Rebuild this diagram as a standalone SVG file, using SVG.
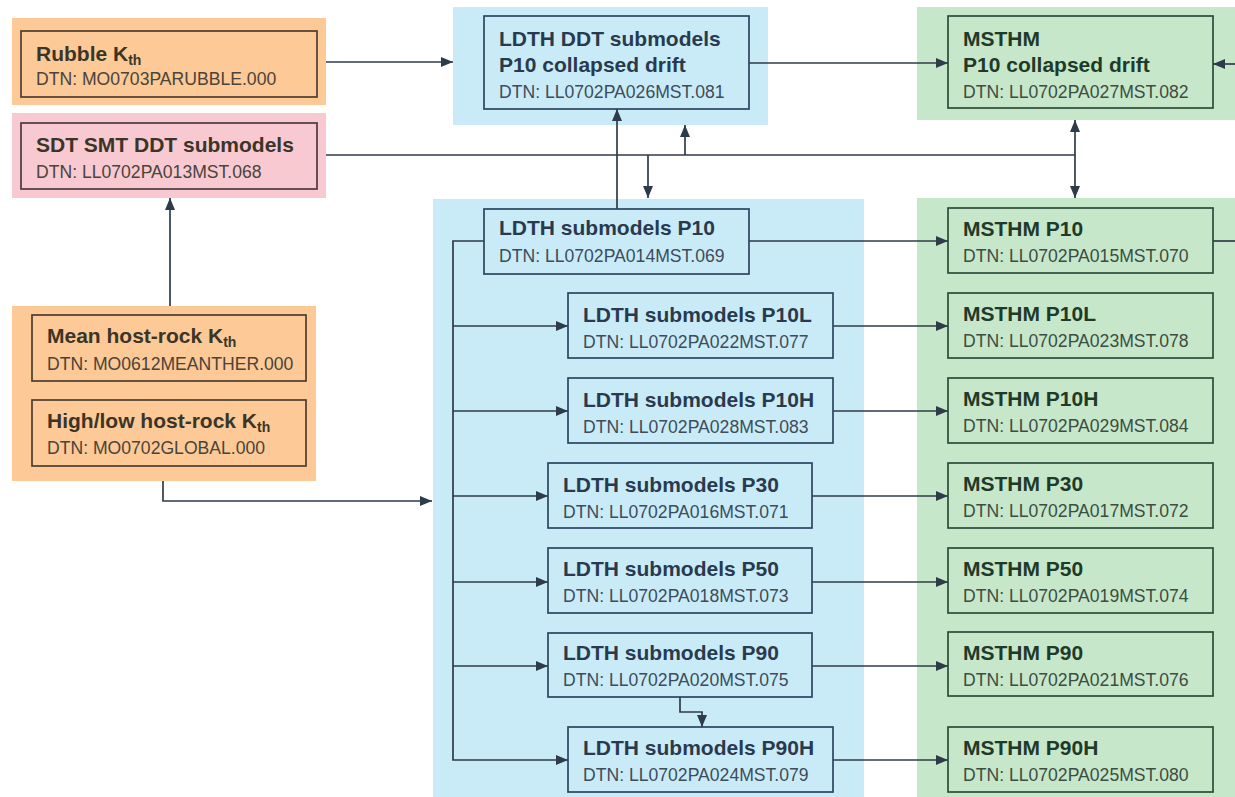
<svg xmlns="http://www.w3.org/2000/svg" width="1235" height="797" viewBox="0 0 1235 797">
<defs>
<marker id="ah" markerUnits="userSpaceOnUse" markerWidth="13" markerHeight="11" refX="12" refY="5" orient="auto">
<path d="M0,0 L12,5 L0,10 z" fill="#2e3b48"/>
</marker>
<style>
.bgO{fill:#fcc997}
.bgP{fill:#f8c9d1}
.bgB{fill:#c9ebf8}
.bgG{fill:#c7e7ca}
.bx{fill:none;stroke-width:1.7}
.bxO{stroke:#4a3e30}
.bxP{stroke:#4a3a3e}
.bxB{stroke:#2c4560}
.bxG{stroke:#2d4a38}
.t{font-family:"Liberation Sans",Arial,sans-serif;font-weight:bold;font-size:21px}
.d{font-family:"Liberation Sans",Arial,sans-serif;font-size:17.6px}
.tO{fill:#3b3528}.dO{fill:#4a443a}
.tB{fill:#2a3a4e}.dB{fill:#3e4c5a}
.tG{fill:#1f3a29}.dG{fill:#3c4d42}
.sub{font-size:14px}
.c{fill:none;stroke:#2e3b48;stroke-width:1.7}
.a{marker-end:url(#ah)}
</style>
</defs>

<g id="backgrounds">
<rect class="bgO" x="12" y="18" width="314" height="87"/>
<rect class="bgP" x="12" y="113" width="314" height="85"/>
<rect class="bgO" x="12" y="306" width="304" height="175"/>
<rect class="bgB" x="453" y="7" width="315" height="118"/>
<rect class="bgG" x="917" y="7" width="318" height="113"/>
<rect class="bgB" x="433" y="199" width="431" height="598"/>
<rect class="bgG" x="917" y="198" width="318" height="599"/>
</g>

<g id="connectors">
<path class="c a" d="M326,62 H453"/>
<path class="c" d="M326,155 H1075"/>
<path class="c a" d="M648,155 V198"/>
<path class="c a" d="M685,155 V125"/>
<path class="c a" d="M617,209 V109"/>
<path class="c a" d="M1075,155 V120"/>
<path class="c a" d="M1075,155 V198"/>
<path class="c a" d="M749,63 H948"/>
<path class="c a" d="M1235,64 H1213"/>
<path class="c a" d="M170,306 V198"/>
<path class="c a" d="M163,481 V501 H432"/>
<path class="c a" d="M749,241 H948"/>
<path class="c" d="M1213,241 H1235"/>
<path class="c a" d="M484,241 H453 V760 H568"/>
<path class="c a" d="M453,326 H568"/>
<path class="c a" d="M453,411 H568"/>
<path class="c a" d="M453,496 H548"/>
<path class="c a" d="M453,582 H548"/>
<path class="c a" d="M453,666 H548"/>
<path class="c a" d="M833,326 H948"/>
<path class="c a" d="M833,411 H948"/>
<path class="c a" d="M812,496 H948"/>
<path class="c a" d="M812,582 H948"/>
<path class="c a" d="M812,666 H948"/>
<path class="c a" d="M833,760 H948"/>
<path class="c a" d="M680,697 V712 H702 V727"/>
</g>

<g id="rubble">
<rect class="bx bxO" x="21" y="31" width="296" height="66"/>
<text class="t tO" x="36" y="61">Rubble K<tspan class="sub" dy="4">th</tspan></text>
<text class="d dO" x="36" y="85">DTN:  MO0703PARUBBLE.000</text>
</g>

<g id="sdt">
<rect class="bx bxP" x="21" y="123" width="296" height="66"/>
<text class="t tO" x="36" y="152">SDT SMT DDT submodels</text>
<text class="d dO" x="36" y="178">DTN:  LL0702PA013MST.068</text>
</g>

<g id="mean">
<rect class="bx bxO" x="32" y="315" width="274" height="66"/>
<text class="t tO" x="47" y="343">Mean host-rock K<tspan class="sub" dy="4">th</tspan></text>
<text class="d dO" x="47" y="370">DTN: MO0612MEANTHER.000</text>
</g>

<g id="highlow">
<rect class="bx bxO" x="32" y="400" width="274" height="66"/>
<text class="t tO" x="47" y="428">High/low host-rock K<tspan class="sub" dy="4">th</tspan></text>
<text class="d dO" x="47" y="454">DTN: MO0702GLOBAL.000</text>
</g>

<g id="ldth-ddt">
<rect class="bx bxB" x="484" y="16" width="265" height="93"/>
<text class="t tB" x="499" y="46">LDTH DDT submodels</text>
<text class="t tB" x="499" y="72">P10 collapsed drift</text>
<text class="d dB" x="499" y="98">DTN: LL0702PA026MST.081</text>
</g>

<g id="msthm-coll">
<rect class="bx bxG" x="948" y="16" width="265" height="92"/>
<text class="t tG" x="963" y="46">MSTHM</text>
<text class="t tG" x="963" y="72">P10 collapsed drift</text>
<text class="d dG" x="963" y="98">DTN: LL0702PA027MST.082</text>
</g>

<g id="ldth-p10">
<rect class="bx bxB" x="484" y="209" width="265" height="65"/>
<text class="t tB" x="499" y="235">LDTH submodels P10</text>
<text class="d dB" x="499" y="262">DTN: LL0702PA014MST.069</text>
</g>

<g id="ldth-p10l">
<rect class="bx bxB" x="568" y="293" width="265" height="65"/>
<text class="t tB" x="583" y="322">LDTH submodels P10L</text>
<text class="d dB" x="583" y="348">DTN: LL0702PA022MST.077</text>
</g>

<g id="ldth-p10h">
<rect class="bx bxB" x="568" y="378" width="265" height="65"/>
<text class="t tB" x="583" y="407">LDTH submodels P10H</text>
<text class="d dB" x="583" y="433">DTN: LL0702PA028MST.083</text>
</g>

<g id="ldth-p30">
<rect class="bx bxB" x="548" y="463" width="264" height="65"/>
<text class="t tB" x="563" y="492">LDTH submodels P30</text>
<text class="d dB" x="563" y="518">DTN: LL0702PA016MST.071</text>
</g>

<g id="ldth-p50">
<rect class="bx bxB" x="548" y="548" width="264" height="65"/>
<text class="t tB" x="563" y="576">LDTH submodels P50</text>
<text class="d dB" x="563" y="602">DTN: LL0702PA018MST.073</text>
</g>

<g id="ldth-p90">
<rect class="bx bxB" x="548" y="633" width="264" height="64"/>
<text class="t tB" x="563" y="660">LDTH submodels P90</text>
<text class="d dB" x="563" y="686">DTN: LL0702PA020MST.075</text>
</g>

<g id="ldth-p90h">
<rect class="bx bxB" x="568" y="727" width="265" height="65"/>
<text class="t tB" x="583" y="755">LDTH submodels P90H</text>
<text class="d dB" x="583" y="781">DTN: LL0702PA024MST.079</text>
</g>

<g id="msthm-p10">
<rect class="bx bxG" x="948" y="208" width="265" height="65"/>
<text class="t tG" x="963" y="236">MSTHM P10</text>
<text class="d dG" x="963" y="262">DTN: LL0702PA015MST.070</text>
</g>

<g id="msthm-p10l">
<rect class="bx bxG" x="948" y="293" width="265" height="65"/>
<text class="t tG" x="963" y="321">MSTHM P10L</text>
<text class="d dG" x="963" y="347">DTN: LL0702PA023MST.078</text>
</g>

<g id="msthm-p10h">
<rect class="bx bxG" x="948" y="378" width="265" height="65"/>
<text class="t tG" x="963" y="406">MSTHM P10H</text>
<text class="d dG" x="963" y="432">DTN: LL0702PA029MST.084</text>
</g>

<g id="msthm-p30">
<rect class="bx bxG" x="948" y="463" width="265" height="65"/>
<text class="t tG" x="963" y="491">MSTHM P30</text>
<text class="d dG" x="963" y="517">DTN: LL0702PA017MST.072</text>
</g>

<g id="msthm-p50">
<rect class="bx bxG" x="948" y="548" width="265" height="65"/>
<text class="t tG" x="963" y="576">MSTHM P50</text>
<text class="d dG" x="963" y="602">DTN: LL0702PA019MST.074</text>
</g>

<g id="msthm-p90">
<rect class="bx bxG" x="948" y="632" width="265" height="64"/>
<text class="t tG" x="963" y="660">MSTHM P90</text>
<text class="d dG" x="963" y="686">DTN: LL0702PA021MST.076</text>
</g>

<g id="msthm-p90h">
<rect class="bx bxG" x="948" y="727" width="265" height="65"/>
<text class="t tG" x="963" y="755">MSTHM P90H</text>
<text class="d dG" x="963" y="781">DTN: LL0702PA025MST.080</text>
</g>
</svg>
